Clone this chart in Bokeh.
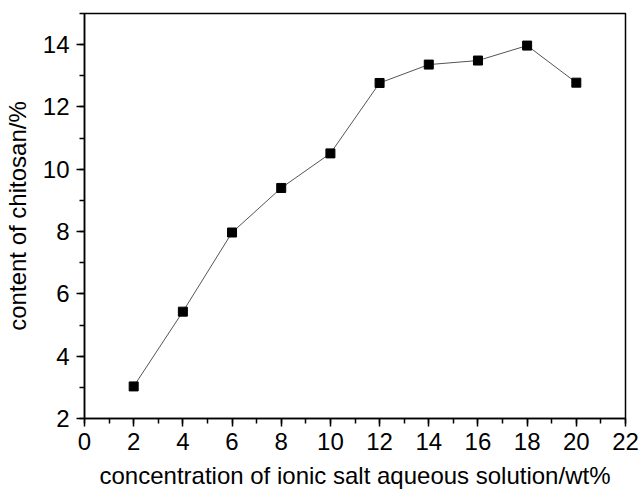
from bokeh.plotting import figure
from bokeh.models import Range1d, SingleIntervalTicker
from bokeh.embed import file_html
from bokeh.resources import INLINE

conc = [2, 4, 6, 8, 10, 12, 14, 16, 18, 20]
content = [3.03, 5.43, 7.97, 9.40, 10.51, 12.77, 13.36, 13.49, 13.97, 12.78]

x_label = "concentration of ionic salt aqueous solution/wt%"
y_label = "content of chitosan/%"

FONT = "Liberation Sans"

p = figure(width=640, height=492, output_backend="svg", toolbar_location=None,
           x_range=Range1d(0, 22), y_range=Range1d(2, 15),
           min_border_left=82, min_border_right=15, min_border_top=13, min_border_bottom=74)

p.line(conc, content, line_color="#555555", line_width=1)
p.scatter(conc, content, marker="square", size=9, fill_color="black", line_color="black")

p.xgrid.visible = False
p.ygrid.visible = False
p.outline_line_color = "black"
p.outline_line_width = 1.5
p.background_fill_color = "white"
p.border_fill_color = "white"

p.xaxis.ticker = SingleIntervalTicker(interval=2, num_minor_ticks=2)
p.yaxis.ticker = SingleIntervalTicker(interval=2, num_minor_ticks=2)

for ax in (p.xaxis[0], p.yaxis[0]):
    ax.axis_line_color = "black"
    ax.axis_line_width = 1.5
    ax.major_tick_line_color = "black"
    ax.major_tick_line_width = 1.5
    ax.minor_tick_line_color = "black"
    ax.minor_tick_line_width = 1.5
    ax.major_tick_in = 0
    ax.minor_tick_in = 0
    ax.major_tick_out = 8
    ax.minor_tick_out = 5
    ax.major_label_text_font = FONT
    ax.major_label_text_font_size = "24px"
    ax.major_label_text_color = "black"
    ax.axis_label_text_font = FONT
    ax.axis_label_text_font_size = "24px"
    ax.axis_label_text_font_style = "normal"
    ax.axis_label_text_color = "black"

p.xaxis.axis_label = x_label
p.yaxis.axis_label = y_label
p.xaxis.major_label_standoff = 6
p.yaxis.major_label_standoff = 7
p.xaxis.axis_label_standoff = 9
p.yaxis.axis_label_standoff = 9

open("out.html", "w").write(file_html(p, INLINE))
